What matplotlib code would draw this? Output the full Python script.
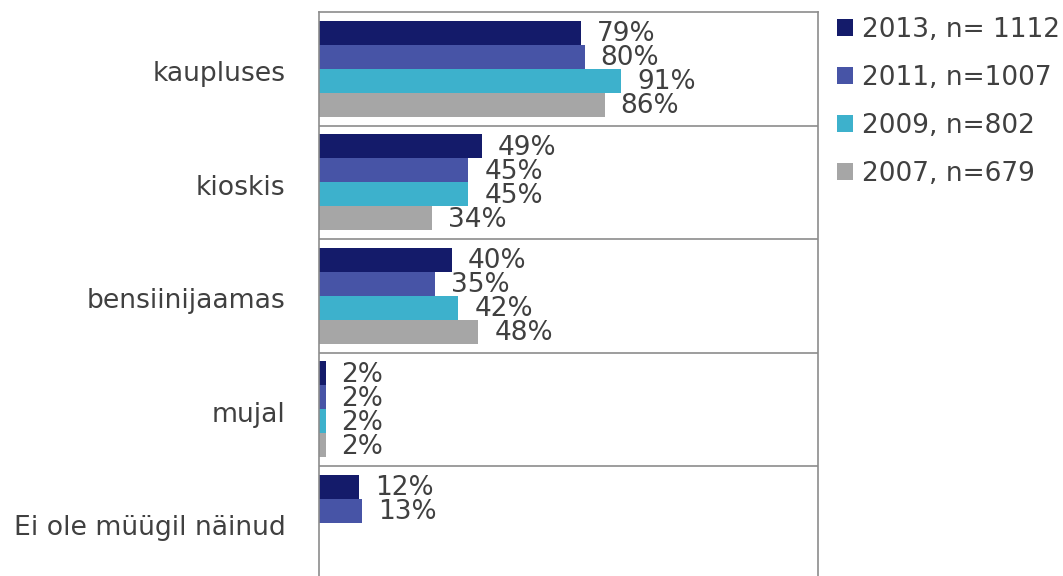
import matplotlib
matplotlib.use("Agg")
import matplotlib.pyplot as plt
import matplotlib.transforms as mtransforms
from matplotlib.patches import Patch
import numpy as np

categories = ["kaupluses", "kioskis", "bensiinijaamas", "mujal", "Ei ole müügil näinud"]
series_names = ["2013, n= 1112", "2011, n=1007", "2009, n=802", "2007, n=679"]
v2013 = [79, 49, 40, 2, 12]
v2011 = [80, 45, 35, 2, 13]
v2009 = [91, 45, 42, 2, None]
v2007 = [86, 34, 48, 2, None]
colors = ["#141B6A", "#4754A6", "#3DB1CC", "#A6A6A6"]

series = [v2013, v2011, v2009, v2007]

plt.rcParams['font.family'] = ['DejaVu Sans']
fig = plt.figure(figsize=(10.63, 5.76), dpi=100)
ax = fig.add_axes([319/1063, (576-579.5)/576, (818-319)/1063, 567.5/576])

bh = 0.212
txt_color = "#404040"
for j, (vals, col) in enumerate(zip(series, colors)):
    for i, v in enumerate(vals):
        if v is None:
            continue
        y = i + (j - 1.5) * bh
        ax.barh(y, v, height=bh, color=col, edgecolor="none")
        ax.annotate(f"{v}%", xy=(v, y), xytext=(11.5, -1), textcoords="offset points",
                    va="center", ha="left", fontsize=19, color=txt_color)

ax.set_xlim(0, 150.3)
ax.set_ylim(4.5, -0.5)
ax.set_yticks(range(len(categories)))
ax.set_yticklabels(categories, fontsize=19.2, color=txt_color)
ax.tick_params(axis="y", length=0, pad=24)
offset = mtransforms.ScaledTranslation(0, -2.5/100, fig.dpi_scale_trans)
for lbl in ax.get_yticklabels():
    lbl.set_transform(lbl.get_transform() + offset)
ax.set_xticks([])
for b in [0.5, 1.5, 2.5, 3.5]:
    ax.axhline(b, color="#8C8C8C", lw=1.2, zorder=0)
for s in ["left", "right", "top"]:
    ax.spines[s].set_color("#8C8C8C")
    ax.spines[s].set_linewidth(1.2)
ax.spines["bottom"].set_visible(False)

handles = [Patch(facecolor=c, edgecolor="none") for c in colors]
fig.legend(handles, series_names, loc="upper left", bbox_to_anchor=(829/1063, 1 - 9/576),
           frameon=False, fontsize=19, handlelength=0.6, handleheight=0.6,
           handletextpad=0.35, labelspacing=0.83, borderaxespad=0, borderpad=0.3,
           labelcolor=txt_color)

fig.savefig("out.png", dpi=100)
